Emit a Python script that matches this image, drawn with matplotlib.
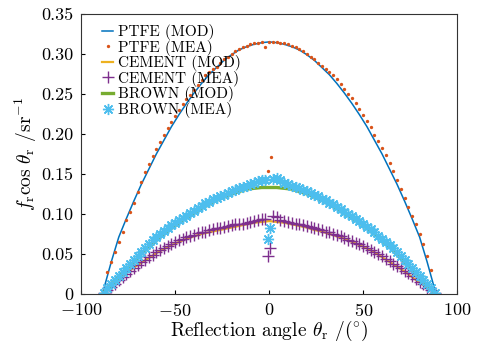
import numpy as np
import matplotlib
matplotlib.use("Agg")
import matplotlib.pyplot as plt

plt.rcParams['font.family'] = 'serif'
plt.rcParams['font.serif'] = ['cmr10']
plt.rcParams['mathtext.fontset'] = 'cm'
plt.rcParams['axes.formatter.use_mathtext'] = True

# angles (deg)
theta_mod = np.arange(-88, 89, 4)
theta_mea = np.arange(-88, 89, 2)
theta_ptfe_mea = np.arange(-86, 87, 2)

ptfe_mod = [0.006, 0.040, 0.071, 0.094, 0.116, 0.137, 0.156, 0.175, 0.192, 0.209, 0.224,
            0.238, 0.251, 0.263, 0.274, 0.283, 0.292, 0.299, 0.305, 0.309, 0.312, 0.314,
            0.315,
            0.314, 0.312, 0.309, 0.305, 0.299, 0.292, 0.283, 0.274, 0.263, 0.251, 0.238,
            0.224, 0.209, 0.192, 0.175, 0.156, 0.137, 0.116, 0.094, 0.071, 0.040, 0.006]

ptfe_mea = [0.027, 0.040, 0.053, 0.065, 0.077, 0.092, 0.103, 0.114, 0.127, 0.140, 0.152,
            0.162, 0.172, 0.181, 0.190, 0.198, 0.207, 0.215, 0.222, 0.230, 0.237, 0.244,
            0.249, 0.255, 0.261, 0.267, 0.273, 0.277, 0.281, 0.284, 0.289, 0.293, 0.296,
            0.300, 0.303, 0.306, 0.308, 0.310, 0.312, 0.313, 0.314, 0.315, 0.309,
            0.315,
            0.315, 0.315, 0.314, 0.313, 0.312, 0.310, 0.308, 0.306, 0.303, 0.300, 0.296,
            0.293, 0.289, 0.285, 0.281, 0.277, 0.273, 0.268, 0.262, 0.256, 0.250, 0.245,
            0.238, 0.231, 0.223, 0.216, 0.208, 0.199, 0.191, 0.182, 0.173, 0.163, 0.153,
            0.142, 0.131, 0.120, 0.109, 0.098, 0.087, 0.075, 0.062, 0.047, 0.030]
ptfe_out_theta = [0.9, -0.9]
ptfe_out = [0.171, 0.153]

cement_mod = [0.004, 0.010, 0.018, 0.026, 0.033, 0.039, 0.045, 0.051, 0.056, 0.061, 0.065,
              0.069, 0.072, 0.075, 0.077, 0.079, 0.081, 0.083, 0.085, 0.087, 0.089, 0.090,
              0.091,
              0.090, 0.089, 0.087, 0.085, 0.083, 0.080, 0.078, 0.075, 0.072, 0.069, 0.065,
              0.061, 0.057, 0.052, 0.046, 0.040, 0.034, 0.028, 0.021, 0.014, 0.008, 0.002]

cement_mea = [0.001, 0.005, 0.009, 0.013, 0.017, 0.021, 0.025, 0.029, 0.033, 0.036, 0.040,
              0.043, 0.046, 0.049, 0.052, 0.055, 0.058, 0.060, 0.063, 0.065, 0.067, 0.069,
              0.071, 0.073, 0.074, 0.076, 0.077, 0.078, 0.080, 0.081, 0.082, 0.083, 0.084,
              0.085, 0.086, 0.087, 0.087, 0.088, 0.089, 0.090, 0.091, 0.093, 0.094, 0.094,
              np.nan,
              0.097, 0.096, 0.093, 0.091, 0.090, 0.089, 0.088, 0.087, 0.086, 0.085, 0.084,
              0.082, 0.081, 0.080, 0.078, 0.077, 0.075, 0.074, 0.072, 0.070, 0.068, 0.066,
              0.064, 0.062, 0.060, 0.058, 0.055, 0.053, 0.050, 0.047, 0.044, 0.041, 0.038,
              0.035, 0.032, 0.029, 0.026, 0.022, 0.019, 0.015, 0.012, 0.008, 0.005, 0.001]
cement_out_theta = [0.5, -0.9]
cement_out = [0.057, 0.047]

brown_mod = [0.002, 0.011, 0.021, 0.031, 0.040, 0.050, 0.059, 0.067, 0.075, 0.082, 0.089,
             0.095, 0.101, 0.107, 0.112, 0.117, 0.121, 0.125, 0.128, 0.131, 0.132, 0.133,
             0.133,
             0.133, 0.132, 0.131, 0.128, 0.125, 0.121, 0.117, 0.112, 0.107, 0.101, 0.095,
             0.089, 0.082, 0.075, 0.067, 0.059, 0.050, 0.040, 0.031, 0.021, 0.011, 0.002]

brown_mea = [0.001, 0.007, 0.013, 0.018, 0.023, 0.028, 0.033, 0.038, 0.043, 0.048, 0.053,
             0.058, 0.062, 0.067, 0.071, 0.075, 0.079, 0.082, 0.086, 0.089, 0.092, 0.095,
             0.098, 0.101, 0.104, 0.107, 0.110, 0.113, 0.115, 0.118, 0.120, 0.122, 0.124,
             0.126, 0.128, 0.130, 0.132, 0.134, 0.135, 0.137, 0.139, 0.141, 0.142, 0.142,
             np.nan,
             0.144, 0.145, 0.142, 0.139, 0.137, 0.135, 0.134, 0.132, 0.130, 0.128, 0.126,
             0.124, 0.122, 0.119, 0.117, 0.114, 0.112, 0.109, 0.106, 0.103, 0.100, 0.097,
             0.094, 0.091, 0.088, 0.084, 0.081, 0.077, 0.073, 0.069, 0.065, 0.061, 0.057,
             0.052, 0.047, 0.043, 0.038, 0.033, 0.028, 0.023, 0.018, 0.012, 0.007, 0.001]
brown_out_theta = [0.5, -0.9]
brown_out = [0.083, 0.069]

yticks = [0, 0.05, 0.10, 0.15, 0.20, 0.25, 0.30, 0.35]
ytick_labels = ['0', '0.05', '0.10', '0.15', '0.20', '0.25', '0.30', '0.35']
xticks = [-100, -50, 0, 50, 100]

fig = plt.figure(figsize=(4.89, 3.47), dpi=100)
ax = fig.add_axes([0.166, 0.153, 0.769, 0.807])

ax.plot(theta_mod, ptfe_mod, '-', color='#0072BD', lw=1.1, label='PTFE (MOD)')
ax.plot(np.r_[theta_ptfe_mea, ptfe_out_theta], np.r_[ptfe_mea, ptfe_out], 'o',
        color='#D95319', ms=2.4, mew=0, label='PTFE (MEA)')
ax.plot(theta_mod, cement_mod, '-', color='#EDB120', lw=1.6, label='CEMENT (MOD)')
ax.plot(np.r_[theta_mea, cement_out_theta], np.r_[cement_mea, cement_out], '+',
        color='#7E2F8E', ms=8, mew=1.0, label='CEMENT (MEA)')
ax.plot(theta_mod, brown_mod, '-', color='#77AC30', lw=2.4, label='BROWN (MOD)')
ax.plot(np.r_[theta_mea, brown_out_theta], np.r_[brown_mea, brown_out], ls='none',
        marker=(8, 2, 0), color='#4DBEEE', ms=8, mew=1.0, label='BROWN (MEA)')

ax.set_xlim(-100, 100)
ax.set_ylim(0, 0.35)
ax.set_xticks(xticks)
ax.set_yticks(yticks)
ax.set_yticklabels(ytick_labels)
ax.tick_params(direction='in', labelsize=13, length=3, width=0.8)
ax.tick_params(axis='x', pad=6)
ax.tick_params(axis='y', pad=5.5)
for s in ax.spines.values():
    s.set_linewidth(0.8)
    s.set_color('#333333')

ax.set_xlabel(r'Reflection angle $\theta_{\rm r}$ /($^{\circ}$)', fontsize=14, labelpad=0)
ax.set_ylabel(r'$f_{\rm r}\cos\,\theta_{\rm r}$ /sr$^{-1}$', fontsize=14, labelpad=2)

ax.legend(loc='upper left', bbox_to_anchor=(0.04, 0.985), frameon=False, fontsize=11,
          handlelength=0.7, handletextpad=0.3, labelspacing=-0.03, borderaxespad=0.2,
          borderpad=0.2, numpoints=1)

fig.savefig('out.png', dpi=100)
